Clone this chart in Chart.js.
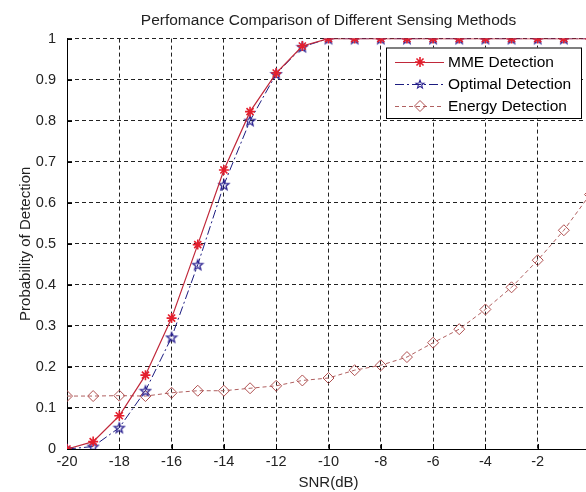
<!DOCTYPE html>
<html><head><meta charset="utf-8">
<script src="https://cdn.jsdelivr.net/npm/chart.js@4"></script>
<style>html,body{margin:0;padding:0;background:#fff;overflow:hidden;}canvas{display:block;}</style>
</head><body>
<canvas id="c" width="620" height="492"></canvas>
<script>
const snr = [-20,-19,-18,-17,-16,-15,-14,-13,-12,-11,-10,-9,-8,-7,-6,-5,-4,-3,-2,-1,0];
const mmeDetection = [0,0.018,0.081,0.18,0.319,0.498,0.68,0.822,0.916,0.982,1,1,1,1,1,1,1,1,1,1,1];
const optimalDetection = [0,0.006,0.052,0.142,0.272,0.449,0.644,0.80,0.914,0.98,1,1,1,1,1,1,1,1,1,1,1];
const energyDetection = [0.129,0.129,0.13,0.129,0.137,0.142,0.142,0.148,0.154,0.167,0.173,0.192,0.204,0.224,0.259,0.292,0.34,0.394,0.46,0.533,0.62];
const xTicks = [-20,-18,-16,-14,-12,-10,-8,-6,-4,-2,0];
const yTicks = [0,0.1,0.2,0.3,0.4,0.5,0.6,0.7,0.8,0.9,1];
const seriesNames = ['MME Detection','Optimal Detection','Energy Detection'];
const chartTitle = 'Perfomance Comparison of Different Sensing Methods';
const xTitle = 'SNR(dB)';
const yTitle = 'Probability of Detection';

const FONT = "'Liberation Sans', Arial, sans-serif";

function pentagram(color, R, r, lw){
  const s = 14, c = document.createElement('canvas');
  c.width = s; c.height = s;
  const g = c.getContext('2d');
  const cx = s/2, cy = s/2 + 0.5;
  g.beginPath();
  for (let i = 0; i < 10; i++) {
    const a = -Math.PI/2 + i*Math.PI/5;
    const rr = i % 2 ? r : R;
    const px = cx + rr*Math.cos(a), py = cy + rr*Math.sin(a);
    i ? g.lineTo(px, py) : g.moveTo(px, py);
  }
  g.closePath();
  g.lineWidth = lw;
  g.strokeStyle = color;
  g.stroke();
  return c;
}
const starImg = pentagram('#2a2090', 5.2, 2.2, 1.3);
const starImgSmall = pentagram('#2a2090', 4.2, 1.8, 1.1);

const pts = arr => snr.map((x, i) => ({x, y: arr[i]}));

const legendBox = {
  id: 'legendBox',
  afterDatasetsDraw(chart) {
    const ctx = chart.ctx, a = chart.chartArea;
    const right = a.right - 8, left = 386, top = 47.5, bottom = 119;
    ctx.save();
    ctx.fillStyle = '#fff';
    ctx.fillRect(left, top, right - left, bottom - top);
    ctx.strokeStyle = '#000'; ctx.lineWidth = 1;
    ctx.strokeRect(left + 0.5, top + 0.5, right - left - 1, bottom - top - 1);
    const rows = [62, 84, 106];
    chart.data.datasets.forEach((ds, i) => {
      const y = rows[i];
      ctx.save();
      ctx.strokeStyle = ds.borderColor; ctx.lineWidth = ds.borderWidth;
      ctx.setLineDash(ds.borderDash || []);
      ctx.beginPath(); ctx.moveTo(395, y + 0.5); ctx.lineTo(444, y + 0.5); ctx.stroke();
      ctx.restore();
      ctx.save();
      ctx.strokeStyle = ds.pointBorderColor; ctx.fillStyle = ds.pointBackgroundColor;
      ctx.lineWidth = ds.pointBorderWidth;
      const style = (i === 1) ? starImgSmall : ds.pointStyle;
      Chart.helpers.drawPoint(ctx, {pointStyle: style, radius: ds.pointRadius, rotation: 0, borderWidth: ds.pointBorderWidth}, 420, y);
      ctx.restore();
      ctx.fillStyle = '#000';
      ctx.font = '15.5px ' + FONT;
      ctx.textBaseline = 'middle';
      ctx.textAlign = 'left';
      ctx.fillText(ds.label, 448, y + 1);
    });
    ctx.restore();
  }
};

const innerTicks = {
  id: 'innerTicks',
  beforeDatasetsDraw(chart) {
    const ctx = chart.ctx, a = chart.chartArea;
    const xs = chart.scales.x, ys = chart.scales.y;
    ctx.save();
    ctx.strokeStyle = '#000'; ctx.lineWidth = 1;
    ctx.beginPath();
    xTicks.forEach(v => { const p = Math.round(xs.getPixelForValue(v)) + 0.5; ctx.moveTo(p, a.bottom); ctx.lineTo(p, a.bottom - 5); });
    yTicks.forEach(v => { const p = Math.round(ys.getPixelForValue(v)) + 0.5; ctx.moveTo(a.left, p); ctx.lineTo(a.left + 5, p); });
    ctx.stroke();
    ctx.restore();
  }
};

new Chart(document.getElementById('c'), {
  type: 'line',
  data: {
    datasets: [
      {
        label: seriesNames[0], data: pts(mmeDetection),
        borderColor: '#c0283a', borderWidth: 1.2, borderDash: [],
        pointStyle: 'star', pointRadius: 5, pointBorderColor: '#e41f2d', pointBackgroundColor: '#e41f2d', pointBorderWidth: 1.6,
        tension: 0, fill: false
      },
      {
        label: seriesNames[1], data: pts(optimalDetection),
        borderColor: '#1c1c80', borderWidth: 1, borderDash: [9, 3, 2, 3],
        pointStyle: starImg, pointRadius: 5, pointBorderColor: '#2a2090', pointBackgroundColor: 'rgba(0,0,0,0)', pointBorderWidth: 1.3,
        tension: 0, fill: false
      },
      {
        label: seriesNames[2], data: pts(energyDetection),
        borderColor: '#b06060', borderWidth: 1, borderDash: [4, 3],
        pointStyle: 'rectRot', pointRadius: 5.5, pointBorderColor: '#b05050', pointBackgroundColor: 'rgba(0,0,0,0)', pointBorderWidth: 1,
        tension: 0, fill: false
      }
    ]
  },
  options: {
    responsive: false,
    animation: false,
    devicePixelRatio: 1,
    layout: { padding: { left: 0, right: 30, top: 0, bottom: 0 } },
    plugins: {
      legend: { display: false },
      tooltip: { enabled: false },
      title: {
        display: true, text: chartTitle, fullSize: false,
        color: '#222', font: { family: FONT, size: 15.5, weight: 'normal' },
        padding: { top: 11, bottom: 9 }
      }
    },
    scales: {
      x: {
        type: 'linear', min: -20, max: 0,
        afterBuildTicks: s => { s.ticks = xTicks.map(v => ({ value: v })); },
        afterFit: s => { s.height = 43; },
        ticks: { color: '#222', font: { family: FONT, size: 14.5 }, padding: 4, maxRotation: 0, autoSkip: false },
        grid: { color: '#222', lineWidth: 1, drawTicks: false },
        border: { display: true, color: '#000', width: 1, dash: [4, 3] },
        title: { display: true, text: xTitle, color: '#222', font: { family: FONT, size: 15 }, padding: { top: 0, bottom: 0 } }
      },
      y: {
        type: 'linear', min: 0, max: 1,
        afterBuildTicks: s => { s.ticks = yTicks.map(v => ({ value: v })); },
        afterFit: s => { s.width = 67; },
        ticks: { color: '#222', font: { family: FONT, size: 14.5 }, padding: 11, callback: v => String(+v.toFixed(1)) },
        grid: { color: '#222', lineWidth: 1, drawTicks: false },
        border: { display: true, color: '#000', width: 1, dash: [4, 3] },
        title: { display: true, text: yTitle, color: '#222', font: { family: FONT, size: 15 }, padding: { top: 17, bottom: 0 } }
      }
    }
  },
  plugins: [innerTicks, legendBox]
});
</script>
</body></html>
